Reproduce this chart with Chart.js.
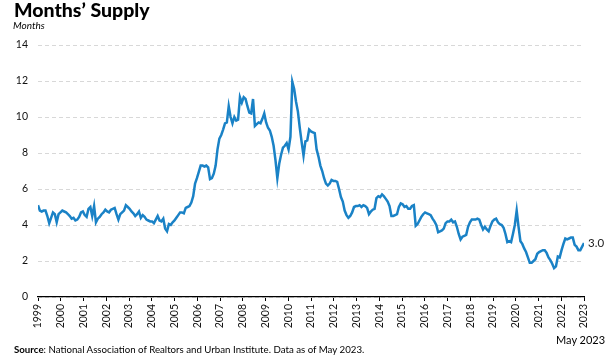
<!DOCTYPE html>
<html>
<head>
<meta charset="utf-8">
<script src="https://cdn.jsdelivr.net/npm/chart.js@4/dist/chart.umd.min.js"></script>
<style>
  html, body { margin: 0; padding: 0; background: #fff; }
  #wrap { position: relative; width: 610px; height: 357px; font-family: Lato, "Open Sans", sans-serif; color: #000; }
  #c { position: absolute; left: 0; top: 0; }
  .t { position: absolute; white-space: nowrap; line-height: 1; }
  #title { left: 14px; top: 0px; font-size: 19.5px; font-weight: 900; }
  #unit { left: 13px; top: 20px; font-size: 10px; font-style: italic; }
  #src { left: 14px; top: 345px; font-size: 9.7px; }
  #asof { left: 556px; top: 334px; font-size: 11px; }
</style>
</head>
<body>
<div id="wrap">
  <canvas id="c" width="610" height="357"></canvas>
  <div class="t" id="title">Months’ Supply</div>
  <div class="t" id="unit">Months</div>
  <div class="t" id="asof">May 2023</div>
  <div class="t" id="src"><b>Source</b>: National Association of Realtors and Urban Institute. Data as of May 2023.</div>
</div>
<script>
// Tick labels on the x axis (years)
const yearLabels = ['1999','2000','2001','2002','2003','2004','2005','2006','2007','2008','2009','2010',
  '2011','2012','2013','2014','2015','2016','2017','2018','2019','2020','2021','2022','2023'];

// Months' supply, monthly, Jan 1999 – May 2023
const supply1999_2004 = [
  5.1, 4.8, 4.75, 4.8, 4.8, 4.5, 4.1, 4.4, 4.7, 4.6, 4.15, 4.6,
  4.7, 4.8, 4.75, 4.7, 4.6, 4.5, 4.35, 4.4, 4.25, 4.3, 4.45, 4.7,
  4.75, 4.55, 4.45, 4.9, 5.0, 4.5, 5.05, 4.15, 4.35, 4.45, 4.6, 4.7,
  4.85, 4.75, 4.7, 4.85, 4.9, 4.95, 4.6, 4.3, 4.6, 4.7, 4.8, 5.1,
  5.0, 4.9, 4.75, 4.65, 4.5, 4.6, 4.75, 4.4, 4.55, 4.45, 4.3, 4.25,
  4.2, 4.2, 4.1, 4.3, 4.5, 4.25, 4.2, 4.35, 3.8, 3.65, 4.05, 4.0
];
const supply2005_2010 = [
  4.15, 4.25, 4.4, 4.55, 4.7, 4.7, 4.65, 4.95, 5.0, 5.05, 5.25, 5.6,
  6.3, 6.6, 6.95, 7.3, 7.3, 7.25, 7.3, 7.2, 6.55, 6.6, 6.85, 7.3,
  8.2, 8.8, 9.0, 9.3, 9.65, 9.7, 10.6, 10.0, 9.65, 10.0, 9.8, 9.85,
  11.1, 10.8, 11.1, 11.0, 10.6, 10.25, 10.2, 11.0, 9.5, 9.6, 9.7, 9.65,
  9.9, 10.2, 9.7, 9.4, 9.25, 8.9, 8.4, 7.6, 6.6, 7.4, 7.9, 8.3,
  8.4, 8.55, 8.2, 8.9, 11.95, 11.55, 10.85, 10.3, 9.4, 8.6, 7.85, 8.65
];
const supply2011_2016 = [
  8.7, 9.3, 9.2, 9.15, 9.1, 8.2, 7.8, 7.3, 7.0, 6.6, 6.3, 6.2,
  6.3, 6.5, 6.45, 6.45, 6.4, 6.0, 5.55, 5.3, 4.8, 4.55, 4.4, 4.5,
  4.7, 5.0, 5.05, 5.05, 5.1, 5.0, 5.1, 5.05, 4.95, 4.6, 4.75, 4.85,
  4.9, 5.5, 5.6, 5.55, 5.7, 5.6, 5.45, 5.3, 5.05, 4.5, 4.5, 4.55,
  4.6, 5.0, 5.2, 5.15, 5.0, 5.05, 4.9, 4.9, 5.05, 5.1, 3.95, 4.05,
  4.25, 4.45, 4.6, 4.7, 4.65, 4.6, 4.55, 4.35, 4.2, 4.0, 3.6, 3.65
];
const supply2017_2023 = [
  3.7, 3.8, 4.1, 4.2, 4.2, 4.3, 4.15, 4.2, 3.9, 3.5, 3.2, 3.35,
  3.4, 3.45, 3.9, 4.15, 4.3, 4.3, 4.3, 4.35, 4.3, 4.0, 3.75, 3.9,
  3.75, 3.65, 3.95, 4.2, 4.3, 4.35, 4.15, 4.05, 4.0, 3.85, 3.5, 3.05,
  3.1, 3.05, 3.5, 4.0, 4.8, 3.9, 3.1, 2.95, 2.7, 2.5, 2.2, 1.9,
  1.9, 2.0, 2.1, 2.4, 2.5, 2.55, 2.6, 2.6, 2.45, 2.2, 2.05, 1.85,
  1.6, 1.7, 2.25, 2.2, 2.6, 2.95, 3.25, 3.2, 3.25, 3.3, 3.3, 2.9,
  2.8, 2.6, 2.6, 2.8, 3.0
];
const supply = [...supply1999_2004, ...supply2005_2010, ...supply2011_2016, ...supply2017_2023];

const yTicks = [0, 2, 4, 6, 8, 10, 12, 14];

const points = supply.map((v, i) => ({ x: i, y: v }));
const lastIdx = supply.length - 1;

const endLabel = {
  id: 'endLabel',
  afterDatasetsDraw(chart) {
    const meta = chart.getDatasetMeta(0);
    const pt = meta.data[meta.data.length - 1];
    const ctx = chart.ctx;
    ctx.save();
    ctx.font = '11.5px Lato, "Open Sans", sans-serif';
    ctx.fillStyle = '#222';
    ctx.textAlign = 'left';
    ctx.textBaseline = 'middle';
    ctx.fillText(supply[lastIdx].toFixed(1), pt.x + 4, pt.y);
    ctx.restore();
  }
};

new Chart(document.getElementById('c'), {
  type: 'line',
  data: {
    datasets: [{
      data: points,
      borderColor: '#1a82c6',
      borderWidth: 2.5,
      pointRadius: 0,
      tension: 0,
      fill: false
    }]
  },
  options: {
    responsive: false,
    animation: false,
    events: [],
    layout: { padding: { top: 45, right: 26, left: 0, bottom: 0 } },
    plugins: { legend: { display: false }, tooltip: { enabled: false }, title: { display: false } },
    scales: {
      x: {
        type: 'linear',
        min: 0,
        max: lastIdx,
        afterBuildTicks(scale) {
          scale.ticks = yearLabels.map((lab, k) => ({ value: k * lastIdx / (yearLabels.length - 1) }));
        },
        afterFit(scale) { scale.height = 60; },
        ticks: {
          autoSkip: false,
          minRotation: 90,
          maxRotation: 90,
          padding: 3,
          color: '#111',
          font: { family: 'Lato, "Open Sans", sans-serif', size: 10.5 },
          callback: (v, idx) => yearLabels[idx]
        },
        grid: { drawOnChartArea: false, drawTicks: true, tickLength: 4, color: '#000', lineWidth: 1 },
        border: { display: true, color: '#000', width: 1.2 }
      },
      y: {
        min: 0,
        max: 14,
        afterBuildTicks(scale) { scale.ticks = yTicks.map(v => ({ value: v })); },
        afterFit(scale) { scale.width = 38; },
        ticks: {
          padding: 10,
          color: '#111',
          font: { family: 'Lato, "Open Sans", sans-serif', size: 10.5 },
          callback: v => String(v)
        },
        grid: { drawTicks: false, color: '#d8d8d8', lineWidth: 1 },
        border: { display: false, dash: [4, 3] }
      }
    }
  },
  plugins: [endLabel]
});
</script>
</body>
</html>
